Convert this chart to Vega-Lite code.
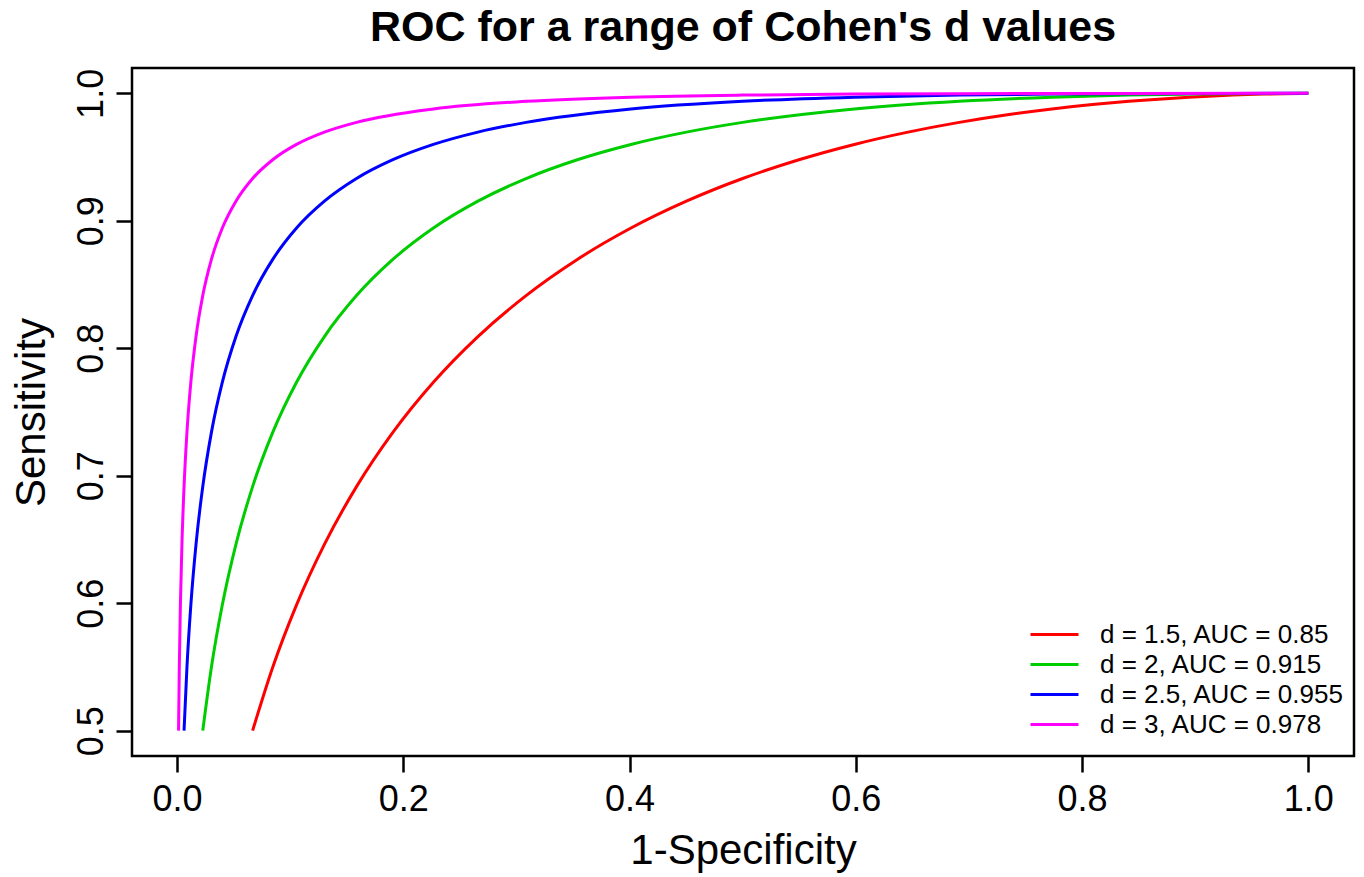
{
  "$schema": "https://vega.github.io/schema/vega-lite/v6.json",
  "width": 1222,
  "height": 688,
  "autosize": {"type": "none"},
  "padding": {"left": 132, "top": 68, "right": 10, "bottom": 121},
  "background": "white",
  "title": {
    "text": "ROC for a range of Cohen's d values",
    "font": "Liberation Sans",
    "fontSize": 43,
    "fontWeight": "bold",
    "color": "black",
    "anchor": "middle",
    "offset": 18
  },
  "data": {
    "values": [
      {"curve": "d = 1.5, AUC = 0.85", "x": 0.06681, "y": 0.5},
      {"curve": "d = 1.5, AUC = 0.85", "x": 0.08460, "y": 0.54974},
      {"curve": "d = 1.5, AUC = 0.85", "x": 0.10565, "y": 0.59871},
      {"curve": "d = 1.5, AUC = 0.85", "x": 0.13029, "y": 0.64617},
      {"curve": "d = 1.5, AUC = 0.85", "x": 0.15866, "y": 0.69146},
      {"curve": "d = 1.5, AUC = 0.85", "x": 0.19079, "y": 0.73401},
      {"curve": "d = 1.5, AUC = 0.85", "x": 0.22663, "y": 0.77337},
      {"curve": "d = 1.5, AUC = 0.85", "x": 0.26599, "y": 0.80921},
      {"curve": "d = 1.5, AUC = 0.85", "x": 0.30854, "y": 0.84134},
      {"curve": "d = 1.5, AUC = 0.85", "x": 0.35383, "y": 0.86971},
      {"curve": "d = 1.5, AUC = 0.85", "x": 0.40129, "y": 0.89435},
      {"curve": "d = 1.5, AUC = 0.85", "x": 0.45026, "y": 0.91540},
      {"curve": "d = 1.5, AUC = 0.85", "x": 0.5, "y": 0.93319},
      {"curve": "d = 1.5, AUC = 0.85", "x": 0.54974, "y": 0.94792},
      {"curve": "d = 1.5, AUC = 0.85", "x": 0.59871, "y": 0.95994},
      {"curve": "d = 1.5, AUC = 0.85", "x": 0.64617, "y": 0.96960},
      {"curve": "d = 1.5, AUC = 0.85", "x": 0.69146, "y": 0.97725},
      {"curve": "d = 1.5, AUC = 0.85", "x": 0.73401, "y": 0.98321},
      {"curve": "d = 1.5, AUC = 0.85", "x": 0.77337, "y": 0.98778},
      {"curve": "d = 1.5, AUC = 0.85", "x": 0.80921, "y": 0.99123},
      {"curve": "d = 1.5, AUC = 0.85", "x": 0.84134, "y": 0.99379},
      {"curve": "d = 1.5, AUC = 0.85", "x": 0.89435, "y": 0.99702},
      {"curve": "d = 1.5, AUC = 0.85", "x": 0.93319, "y": 0.99865},
      {"curve": "d = 1.5, AUC = 0.85", "x": 0.95994, "y": 0.99942},
      {"curve": "d = 1.5, AUC = 0.85", "x": 0.97725, "y": 0.99977},
      {"curve": "d = 1.5, AUC = 0.85", "x": 0.99379, "y": 0.99997},
      {"curve": "d = 1.5, AUC = 0.85", "x": 1.0, "y": 1.0},

      {"curve": "d = 2, AUC = 0.915", "x": 0.02275, "y": 0.5},
      {"curve": "d = 2, AUC = 0.915", "x": 0.03040, "y": 0.54974},
      {"curve": "d = 2, AUC = 0.915", "x": 0.04006, "y": 0.59871},
      {"curve": "d = 2, AUC = 0.915", "x": 0.05208, "y": 0.64617},
      {"curve": "d = 2, AUC = 0.915", "x": 0.06681, "y": 0.69146},
      {"curve": "d = 2, AUC = 0.915", "x": 0.08460, "y": 0.73401},
      {"curve": "d = 2, AUC = 0.915", "x": 0.10565, "y": 0.77337},
      {"curve": "d = 2, AUC = 0.915", "x": 0.13029, "y": 0.80921},
      {"curve": "d = 2, AUC = 0.915", "x": 0.15866, "y": 0.84134},
      {"curve": "d = 2, AUC = 0.915", "x": 0.19079, "y": 0.86971},
      {"curve": "d = 2, AUC = 0.915", "x": 0.22663, "y": 0.89435},
      {"curve": "d = 2, AUC = 0.915", "x": 0.26599, "y": 0.91540},
      {"curve": "d = 2, AUC = 0.915", "x": 0.30854, "y": 0.93319},
      {"curve": "d = 2, AUC = 0.915", "x": 0.35383, "y": 0.94792},
      {"curve": "d = 2, AUC = 0.915", "x": 0.40129, "y": 0.95994},
      {"curve": "d = 2, AUC = 0.915", "x": 0.45026, "y": 0.96960},
      {"curve": "d = 2, AUC = 0.915", "x": 0.5, "y": 0.97725},
      {"curve": "d = 2, AUC = 0.915", "x": 0.59871, "y": 0.98778},
      {"curve": "d = 2, AUC = 0.915", "x": 0.69146, "y": 0.99379},
      {"curve": "d = 2, AUC = 0.915", "x": 0.77337, "y": 0.99702},
      {"curve": "d = 2, AUC = 0.915", "x": 0.84134, "y": 0.99865},
      {"curve": "d = 2, AUC = 0.915", "x": 0.89435, "y": 0.99942},
      {"curve": "d = 2, AUC = 0.915", "x": 0.93319, "y": 0.99977},
      {"curve": "d = 2, AUC = 0.915", "x": 0.97725, "y": 0.99997},
      {"curve": "d = 2, AUC = 0.915", "x": 1.0, "y": 1.0},

      {"curve": "d = 2.5, AUC = 0.955", "x": 0.00621, "y": 0.5},
      {"curve": "d = 2.5, AUC = 0.955", "x": 0.00877, "y": 0.54974},
      {"curve": "d = 2.5, AUC = 0.955", "x": 0.01222, "y": 0.59871},
      {"curve": "d = 2.5, AUC = 0.955", "x": 0.01679, "y": 0.64617},
      {"curve": "d = 2.5, AUC = 0.955", "x": 0.02275, "y": 0.69146},
      {"curve": "d = 2.5, AUC = 0.955", "x": 0.03040, "y": 0.73401},
      {"curve": "d = 2.5, AUC = 0.955", "x": 0.04006, "y": 0.77337},
      {"curve": "d = 2.5, AUC = 0.955", "x": 0.05208, "y": 0.80921},
      {"curve": "d = 2.5, AUC = 0.955", "x": 0.06681, "y": 0.84134},
      {"curve": "d = 2.5, AUC = 0.955", "x": 0.08460, "y": 0.86971},
      {"curve": "d = 2.5, AUC = 0.955", "x": 0.10565, "y": 0.89435},
      {"curve": "d = 2.5, AUC = 0.955", "x": 0.13029, "y": 0.91540},
      {"curve": "d = 2.5, AUC = 0.955", "x": 0.15866, "y": 0.93319},
      {"curve": "d = 2.5, AUC = 0.955", "x": 0.19079, "y": 0.94792},
      {"curve": "d = 2.5, AUC = 0.955", "x": 0.22663, "y": 0.95994},
      {"curve": "d = 2.5, AUC = 0.955", "x": 0.26599, "y": 0.96960},
      {"curve": "d = 2.5, AUC = 0.955", "x": 0.30854, "y": 0.97725},
      {"curve": "d = 2.5, AUC = 0.955", "x": 0.40129, "y": 0.98778},
      {"curve": "d = 2.5, AUC = 0.955", "x": 0.5, "y": 0.99379},
      {"curve": "d = 2.5, AUC = 0.955", "x": 0.59871, "y": 0.99702},
      {"curve": "d = 2.5, AUC = 0.955", "x": 0.69146, "y": 0.99865},
      {"curve": "d = 2.5, AUC = 0.955", "x": 0.77337, "y": 0.99942},
      {"curve": "d = 2.5, AUC = 0.955", "x": 0.84134, "y": 0.99977},
      {"curve": "d = 2.5, AUC = 0.955", "x": 0.93319, "y": 0.99997},
      {"curve": "d = 2.5, AUC = 0.955", "x": 1.0, "y": 1.0},

      {"curve": "d = 3, AUC = 0.978", "x": 0.00135, "y": 0.5},
      {"curve": "d = 3, AUC = 0.978", "x": 0.00202, "y": 0.54974},
      {"curve": "d = 3, AUC = 0.978", "x": 0.00298, "y": 0.59871},
      {"curve": "d = 3, AUC = 0.978", "x": 0.00433, "y": 0.64617},
      {"curve": "d = 3, AUC = 0.978", "x": 0.00621, "y": 0.69146},
      {"curve": "d = 3, AUC = 0.978", "x": 0.00877, "y": 0.73401},
      {"curve": "d = 3, AUC = 0.978", "x": 0.01222, "y": 0.77337},
      {"curve": "d = 3, AUC = 0.978", "x": 0.01679, "y": 0.80921},
      {"curve": "d = 3, AUC = 0.978", "x": 0.02275, "y": 0.84134},
      {"curve": "d = 3, AUC = 0.978", "x": 0.03040, "y": 0.86971},
      {"curve": "d = 3, AUC = 0.978", "x": 0.04006, "y": 0.89435},
      {"curve": "d = 3, AUC = 0.978", "x": 0.05208, "y": 0.91540},
      {"curve": "d = 3, AUC = 0.978", "x": 0.06681, "y": 0.93319},
      {"curve": "d = 3, AUC = 0.978", "x": 0.08460, "y": 0.94792},
      {"curve": "d = 3, AUC = 0.978", "x": 0.10565, "y": 0.95994},
      {"curve": "d = 3, AUC = 0.978", "x": 0.13029, "y": 0.96960},
      {"curve": "d = 3, AUC = 0.978", "x": 0.15866, "y": 0.97725},
      {"curve": "d = 3, AUC = 0.978", "x": 0.22663, "y": 0.98778},
      {"curve": "d = 3, AUC = 0.978", "x": 0.30854, "y": 0.99379},
      {"curve": "d = 3, AUC = 0.978", "x": 0.40129, "y": 0.99702},
      {"curve": "d = 3, AUC = 0.978", "x": 0.5, "y": 0.99865},
      {"curve": "d = 3, AUC = 0.978", "x": 0.59871, "y": 0.99942},
      {"curve": "d = 3, AUC = 0.978", "x": 0.69146, "y": 0.99977},
      {"curve": "d = 3, AUC = 0.978", "x": 0.84134, "y": 0.99997},
      {"curve": "d = 3, AUC = 0.978", "x": 1.0, "y": 1.0}
    ]
  },
  "mark": {"type": "line", "interpolate": "monotone", "strokeWidth": 3, "clip": true},
  "encoding": {
    "x": {
      "field": "x",
      "type": "quantitative",
      "scale": {"domain": [-0.0398, 1.0404], "nice": false, "zero": false},
      "axis": {
        "title": "1-Specificity",
        "values": [0, 0.2, 0.4, 0.6, 0.8, 1.0],
        "format": ".1f",
        "labelFlush": false,
        "labelPadding": 10,
        "titleBaseline": "alphabetic",
        "titleY": 107
      }
    },
    "y": {
      "field": "y",
      "type": "quantitative",
      "scale": {"domain": [0.4801, 1.0199], "nice": false, "zero": false},
      "axis": {
        "title": "Sensitivity",
        "values": [0.5, 0.6, 0.7, 0.8, 0.9, 1.0],
        "format": ".1f",
        "labelFlush": false,
        "labelAngle": -90,
        "labelAlign": "center",
        "labelBaseline": "alphabetic",
        "labelPadding": 14,
        "titleAngle": -90,
        "titleBaseline": "alphabetic",
        "titleAlign": "center",
        "titleX": -88
      }
    },
    "color": {
      "field": "curve",
      "type": "nominal",
      "sort": ["d = 1.5, AUC = 0.85", "d = 2, AUC = 0.915", "d = 2.5, AUC = 0.955", "d = 3, AUC = 0.978"],
      "scale": {
        "domain": ["d = 1.5, AUC = 0.85", "d = 2, AUC = 0.915", "d = 2.5, AUC = 0.955", "d = 3, AUC = 0.978"],
        "range": ["#FF0000", "#00CD00", "#0000FF", "#FF00FF"]
      },
      "legend": {
        "title": null,
        "orient": "none",
        "legendX": 909,
        "legendY": 553,
        "symbolType": "M-2,0H2",
        "symbolSize": 576,
        "symbolStrokeWidth": 3,
        "symbolFillColor": "transparent",
        "labelFont": "Liberation Sans",
        "labelFontSize": 26,
        "labelColor": "black",
        "labelOffset": 32,
        "labelLimit": 0,
        "rowPadding": 3,
        "padding": 0
      }
    }
  },
  "config": {
    "view": {"stroke": "black", "strokeWidth": 2.5},
    "axis": {
      "grid": false,
      "domain": false,
      "ticks": true,
      "tickSize": 16,
      "tickWidth": 2.5,
      "tickColor": "black",
      "labelFont": "Liberation Sans",
      "labelFontSize": 36,
      "labelColor": "black",
      "titleFont": "Liberation Sans",
      "titleFontSize": 42,
      "titleFontWeight": "normal",
      "titleColor": "black"
    }
  }
}
